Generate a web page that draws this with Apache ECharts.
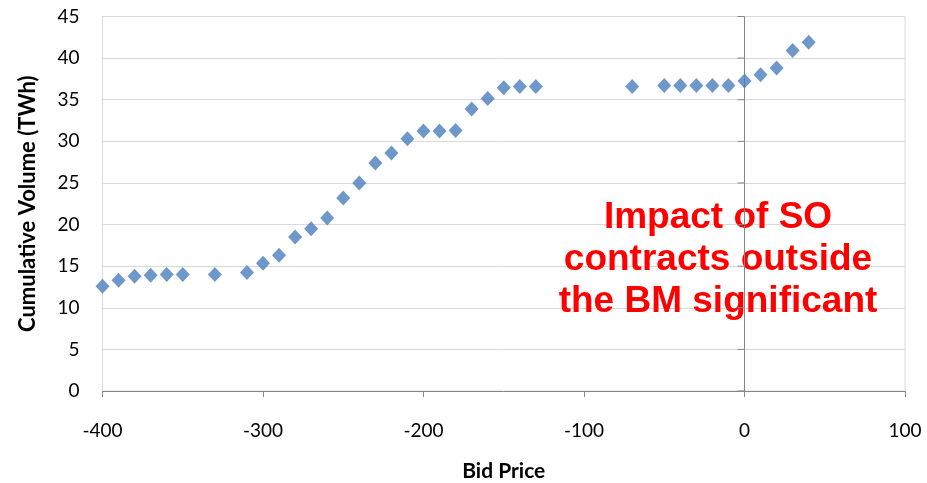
<!DOCTYPE html>
<html>
<head>
<meta charset="utf-8">
<script src="https://cdn.jsdelivr.net/npm/echarts@6/dist/echarts.min.js"></script>
<style>
  html, body { margin: 0; padding: 0; background: #fff; }
  #chart { width: 927px; height: 483px; }
</style>
</head>
<body>
<div id="chart"></div>
<script>
// Bid price (x) and cumulative volume in TWh (y)
const bidPrice = [
  -400, -390, -380, -370, -360, -350, -330, -310, -300, -290,
  -280, -270, -260, -250, -240, -230, -220, -210, -200, -190,
  -180, -170, -160, -150, -140, -130, -70, -50, -40, -30,
  -20, -10, 0, 10, 20, 30, 40
];
const cumulativeVolume = [
  12.6, 13.3, 13.8, 13.9, 14.0, 14.0, 14.0, 14.25, 15.35, 16.3,
  18.5, 19.5, 20.8, 23.2, 25.0, 27.4, 28.6, 30.3, 31.25, 31.25,
  31.3, 33.9, 35.15, 36.45, 36.6, 36.6, 36.6, 36.7, 36.7, 36.7,
  36.7, 36.7, 37.25, 38.0, 38.8, 40.9, 41.9
];
const xTicks = { min: -400, max: 100, interval: 100 };
const yTicks = { min: 0, max: 45, interval: 5 };
const yTickValues = [0, 5, 10, 15, 20, 25, 30, 35, 40, 45];
const noteLines = ['Impact of SO', 'contracts outside', 'the BM significant'];

const points = bidPrice.map((x, i) => [x, cumulativeVolume[i]]);

const axisFont = 'Lato, "Open Sans", sans-serif';
const axisGray = '#868686';
const chart = echarts.init(document.getElementById('chart'), null, { renderer: 'canvas' });

chart.setOption({
  animation: false,
  backgroundColor: '#ffffff',
  grid: {
    left: 102.5, right: 22, top: 16.5, bottom: 92,
    outerBoundsMode: 'none',
    containLabel: false,
    show: true, borderColor: '#d9d9d9', borderWidth: 1
  },
  xAxis: {
    type: 'value',
    min: xTicks.min, max: xTicks.max, interval: xTicks.interval,
    name: 'Bid Price',
    nameLocation: 'middle',
    nameGap: 70,
    nameTextStyle: { fontFamily: axisFont, fontWeight: 'bold', fontSize: 21, color: '#000' },
    axisLine: { show: true, onZero: false, lineStyle: { color: axisGray, width: 1 } },
    axisTick: { show: true, inside: false, length: 6, lineStyle: { color: axisGray } },
    axisLabel: { fontFamily: axisFont, fontSize: 19, color: '#000', margin: 30 },
    splitLine: { show: false }
  },
  yAxis: {
    type: 'value',
    min: yTicks.min, max: yTicks.max, interval: yTicks.interval,
    name: 'Cumulative Volume (TWh)',
    nameLocation: 'middle',
    nameGap: 64,
    nameTextStyle: { fontFamily: axisFont, fontWeight: 'bold', fontSize: 22, color: '#000' },
    axisLine: { show: false },
    axisTick: { show: false },
    axisLabel: { fontFamily: axisFont, fontSize: 19, color: '#000', margin: 23 },
    splitLine: { show: true, lineStyle: { color: '#d9d9d9', width: 1 } }
  },
  graphic: [{
    type: 'text',
    left: 718 - 160,
    top: 197,
    z: 1,
    style: {
      text: noteLines.join('\n'),
      font: 'bold 37px "Liberation Sans", Arial, sans-serif',
      fill: '#ff0000',
      textAlign: 'center',
      lineHeight: 42,
      width: 320
    }
  }],
  series: [
    {
      // vertical value axis crossing at a bid price of zero, ticks pointing left
      type: 'custom',
      silent: true,
      z: 3,
      data: yTickValues.map(v => [0, v]),
      renderItem: function (params, api) {
        const p = api.coord([api.value(0), api.value(1)]);
        return {
          type: 'line',
          shape: { x1: p[0] - 7, y1: p[1], x2: p[0], y2: p[1] },
          style: { stroke: axisGray, lineWidth: 1 }
        };
      },
      markLine: {
        silent: true,
        symbol: 'none',
        animation: false,
        label: { show: false },
        lineStyle: { color: axisGray, type: 'solid', width: 1 },
        data: [{ xAxis: 0 }]
      }
    },
    {
      type: 'scatter',
      data: points,
      symbol: 'diamond',
      symbolSize: [14, 15],
      itemStyle: { color: '#4a7ebb' },
      z: 5
    }
  ]
});
</script>
</body>
</html>
